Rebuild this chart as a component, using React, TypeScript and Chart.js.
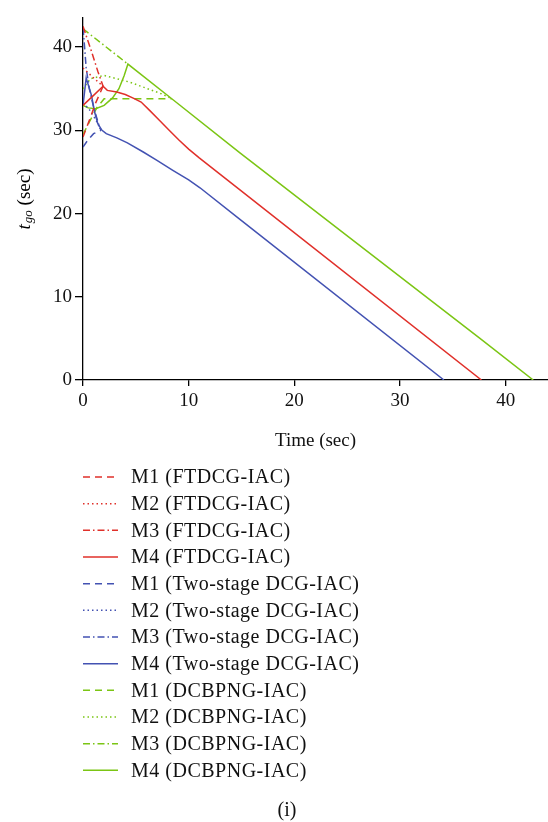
import React, { useEffect, useRef } from "react";
import { Chart, registerables } from "chart.js";

Chart.register(...registerables);

// ---- Data (time in sec, t_go in sec) ----
const redM1T = [0, 0.6, 1.2, 1.9];
const redM1Y = [29.2, 31.2, 33.3, 35.3];
const redM2T = [0, 1.0, 1.9];
const redM2Y = [37.5, 36.3, 35.3];
const redM3T = [0, 0.8, 1.4, 1.9];
const redM3Y = [42.5, 39.5, 37.1, 35.3];
const redM4T = [0, 1.0, 1.9, 2.3, 3.2, 4.0, 4.8, 5.5, 6.3, 7.2, 8.2, 9.1, 10, 11, 14.85, 37.7];
const redM4Y = [33.0, 34.2, 35.3, 34.8, 34.6, 34.3, 33.85, 33.4, 32.4, 31.25, 29.95, 28.8, 27.75, 26.7, 22.85, 0];

const blueM1T = [0, 0.5, 1.0, 1.7];
const blueM1Y = [28.0, 28.9, 29.6, 30.0];
const blueM2T = [0, 0.6, 1.2, 1.7];
const blueM2Y = [33.3, 32.5, 31.3, 30.0];
const blueM3T = [0, 0.15, 0.3, 0.6, 1.0, 1.6];
const blueM3Y = [42.3, 40.0, 37.5, 35.0, 32.8, 30.2];
const blueM4T = [0, 0.3, 0.8, 1.1, 1.4, 1.8, 2.2, 3.2, 4.2, 5.7, 7.0, 8.5, 10, 11.07, 14.85, 34.15];
const blueM4Y = [33.0, 36.3, 34.2, 32.2, 30.8, 30.0, 29.6, 29.1, 28.5, 27.4, 26.4, 25.2, 24.05, 23.1, 19.3, 0];

const greenM1T = [0, 0.6, 1.3, 2.0, 8.4];
const greenM1Y = [29.5, 31.0, 32.7, 33.8, 33.8];
const greenM2T = [0, 0.7, 2.0, 4.4, 7.4, 8.4];
const greenM2Y = [35.0, 36.2, 36.6, 35.8, 34.4, 33.8];
const greenM3T = [0, 4.25];
const greenM3Y = [42.2, 37.96];
const greenM4T = [0, 0.5, 1.2, 2.0, 2.8, 3.4, 3.9, 4.25, 8.4, 14.85, 24.3, 37.56, 42.6];
const greenM4Y = [33.0, 32.7, 32.6, 33.0, 33.9, 35.0, 36.6, 37.96, 33.8, 27.3, 18.0, 5.0, 0];

const xTicks = [0, 10, 20, 30, 40];
const yTicks = [0, 10, 20, 30, 40];

const labels = [
  "M1 (FTDCG-IAC)",
  "M2 (FTDCG-IAC)",
  "M3 (FTDCG-IAC)",
  "M4 (FTDCG-IAC)",
  "M1 (Two-stage DCG-IAC)",
  "M2 (Two-stage DCG-IAC)",
  "M3 (Two-stage DCG-IAC)",
  "M4 (Two-stage DCG-IAC)",
  "M1 (DCBPNG-IAC)",
  "M2 (DCBPNG-IAC)",
  "M3 (DCBPNG-IAC)",
  "M4 (DCBPNG-IAC)",
];

const RED = "#e0302a";
const BLUE = "#4352b2";
const GREEN = "#7bc514";
const DASH = [7, 5];
const DOT = [1.5, 3];
const DASHDOT = [7, 3, 1.5, 3];
const SOLID: number[] = [];

const seriesT = [redM1T, redM2T, redM3T, redM4T, blueM1T, blueM2T, blueM3T, blueM4T, greenM1T, greenM2T, greenM3T, greenM4T];
const seriesY = [redM1Y, redM2Y, redM3Y, redM4Y, blueM1Y, blueM2Y, blueM3Y, blueM4Y, greenM1Y, greenM2Y, greenM3Y, greenM4Y];
const colors = [RED, RED, RED, RED, BLUE, BLUE, BLUE, BLUE, GREEN, GREEN, GREEN, GREEN];
const dashes = [DASH, DOT, DASHDOT, SOLID, DASH, DOT, DASHDOT, SOLID, DASH, DOT, DASHDOT, SOLID];

const SERIF = "'Liberation Serif', 'Times New Roman', serif";

const overlayPlugin = {
  id: "overlay",
  afterDraw(chart: any) {
    const ctx = chart.ctx as CanvasRenderingContext2D;
    ctx.save();
    // y-axis title: t_go (sec)
    ctx.translate(25, 199);
    ctx.rotate(-Math.PI / 2);
    ctx.fillStyle = "#000";
    ctx.textBaseline = "middle";
    const big = `19px ${SERIF}`;
    const bigI = `italic 19px ${SERIF}`;
    const smallI = `italic 13px ${SERIF}`;
    ctx.font = bigI;
    const wT = ctx.measureText("t").width;
    ctx.font = smallI;
    const wGo = ctx.measureText("go").width;
    ctx.font = big;
    const wSec = ctx.measureText(" (sec)").width;
    const total = wT + wGo + wSec + 1;
    let x = -total / 2;
    ctx.textAlign = "left";
    ctx.font = bigI;
    ctx.fillText("t", x, 0);
    x += wT + 1;
    ctx.font = smallI;
    ctx.fillText("go", x, 4);
    x += wGo;
    ctx.font = big;
    ctx.fillText(" (sec)", x, 0);
    ctx.restore();

    // legend
    ctx.save();
    const y0 = 477;
    const dy = 26.67;
    chart.data.datasets.forEach((ds: any, i: number) => {
      const y = y0 + i * dy;
      ctx.strokeStyle = ds.borderColor;
      ctx.lineWidth = 1.5;
      ctx.setLineDash(ds.borderDash || []);
      ctx.beginPath();
      ctx.moveTo(83, y);
      ctx.lineTo(118, y);
      ctx.stroke();
      ctx.setLineDash([]);
      ctx.fillStyle = "#111";
      ctx.font = `20px ${SERIF}`;
      (ctx as any).letterSpacing = "0.5px";
      ctx.textAlign = "left";
      ctx.textBaseline = "middle";
      ctx.fillText(ds.label, 131, y + 1);
    });
    ctx.font = `20px ${SERIF}`;
    (ctx as any).letterSpacing = "0px";
    ctx.textAlign = "center";
    ctx.fillText("(i)", 287, 811);
    ctx.restore();
  },
};

export default function App() {
  const ref = useRef<HTMLCanvasElement | null>(null);
  useEffect(() => {
    document.body.style.margin = "0";
    const canvas = ref.current;
    if (!canvas) return;
    const datasets = labels.map((label, i) => ({
      label,
      data: seriesT[i].map((t, k) => ({ x: t, y: seriesY[i][k] })),
      borderColor: colors[i],
      backgroundColor: colors[i],
      borderDash: dashes[i],
      borderWidth: 1.5,
      pointRadius: 0,
      tension: 0,
      fill: false,
    }));
    const chart = new Chart(canvas, {
      type: "line",
      data: { datasets },
      plugins: [overlayPlugin],
      options: {
        responsive: false,
        animation: false,
        devicePixelRatio: 1,
        layout: { padding: { top: 18, right: 0, bottom: 822 - 452, left: 0 } },
        plugins: { legend: { display: false }, tooltip: { enabled: false } },
        scales: {
          x: {
            type: "linear",
            min: 0,
            max: 44,
            afterFit(scale: any) {
              scale.height = 72;
            },
            afterBuildTicks(scale: any) {
              scale.ticks = xTicks.map((v) => ({ value: v }));
            },
            grid: { drawOnChartArea: false, drawTicks: true, tickLength: 6, color: "#000", lineWidth: 1.3 },
            border: { display: true, color: "#000", width: 1.3 },
            ticks: { color: "#111", font: { family: SERIF, size: 19 }, padding: 4, maxRotation: 0 },
            title: {
              display: true,
              text: "Time (sec)",
              color: "#111",
              font: { family: SERIF, size: 19 },
              padding: { top: 0, bottom: 0 },
            },
          },
          y: {
            type: "linear",
            min: 0,
            max: 43.5,
            afterFit(scale: any) {
              scale.width = 83;
            },
            afterBuildTicks(scale: any) {
              scale.ticks = yTicks.map((v) => ({ value: v }));
            },
            grid: { drawOnChartArea: false, drawTicks: true, tickLength: 8, color: "#000", lineWidth: 1.3 },
            border: { display: true, color: "#000", width: 1.3 },
            ticks: { color: "#111", font: { family: SERIF, size: 19 }, padding: 3 },
          },
        },
      },
    });
    return () => chart.destroy();
  }, []);
  return <canvas ref={ref} width={548} height={822} style={{ display: "block" }} />;
}
